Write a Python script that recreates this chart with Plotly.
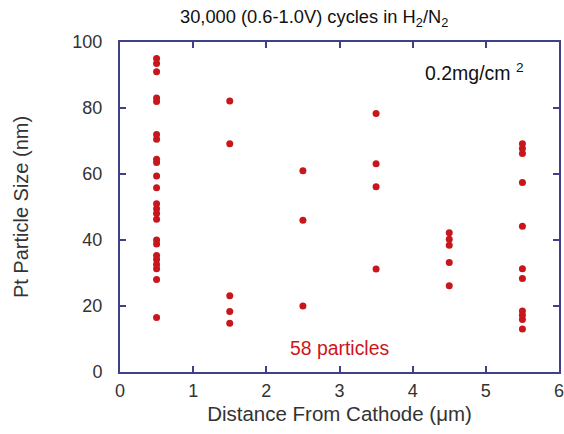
import plotly.graph_objects as go

x_positions = [0.5, 1.5, 2.5, 3.5, 4.5, 5.5]
sizes_05 = [95, 93.5, 91, 83, 82, 72, 70.5, 64.5, 63.5, 59.4, 55.8, 51, 49.5, 48, 46.3,
            40, 38.8, 35.3, 34.1, 32.6, 31.3, 28, 16.5]
sizes_15 = [82.1, 69.2, 23.1, 18.3, 14.8]
sizes_25 = [61, 46, 20]
sizes_35 = [78.3, 63.1, 56.1, 31.2]
sizes_45 = [42.2, 40.2, 38.4, 33.2, 26.1]
sizes_55 = [69.2, 67.7, 66.2, 57.4, 44.2, 31.3, 28.3, 18.5, 17.2, 15.9, 13.0]
columns = [sizes_05, sizes_15, sizes_25, sizes_35, sizes_45, sizes_55]

xs, ys = [], []
for xp, col in zip(x_positions, columns):
    xs += [xp] * len(col)
    ys += col

axis_color = "#3f3f8a"
font_family = "Liberation Sans, Arial, sans-serif"

fig = go.Figure(go.Scatter(
    x=xs, y=ys, mode="markers",
    marker=dict(color="#c8171c", size=7, line=dict(width=0)),
))

fig.update_layout(
    width=564, height=434,
    margin=dict(l=119.5, r=5, t=42, b=62),
    paper_bgcolor="white", plot_bgcolor="white",
    showlegend=False,
    font=dict(family=font_family, size=17, color="#333333"),
)
fig.update_xaxes(
    range=[0, 6], dtick=1, tick0=0, showgrid=False, zeroline=False,
    showline=True, linecolor=axis_color, linewidth=2, mirror="ticks",
    ticks="inside", ticklen=6, tickwidth=1.5, tickcolor=axis_color,
    tickfont=dict(size=18, color="#333333"), automargin=False, ticklabelstandoff=1,
    ticklabeloverflow="allow",
    title=dict(text="Distance From Cathode (μm)", font=dict(size=20.5, color="#333333"), standoff=7),
)
fig.update_yaxes(
    range=[0, 100], dtick=20, tick0=0, showgrid=False, zeroline=False,
    showline=True, linecolor=axis_color, linewidth=2, mirror="ticks",
    ticks="inside", ticklen=6, tickwidth=1.5, tickcolor=axis_color,
    tickfont=dict(size=18, color="#333333"), automargin=False, ticklabelstandoff=12,
    title=dict(text="Pt Particle Size (nm)", font=dict(size=20, color="#333333"), standoff=38),
)

fig.add_annotation(
    text="30,000 (0.6-1.0V) cycles in H<sub>2</sub>/N<sub>2</sub>",
    xref="paper", yref="paper", x=0.4425, y=1.072, showarrow=False,
    xanchor="center", yanchor="middle",
    font=dict(size=18.3, color="#111111", family=font_family),
)
fig.add_annotation(
    text="0.2mg/cm <sup>2</sup>",
    xref="x", yref="y", x=4.85, y=90.8, showarrow=False,
    xanchor="center", yanchor="middle",
    font=dict(size=19.5, color="#111111", family=font_family),
)
fig.add_annotation(
    text="58 particles",
    xref="x", yref="y", x=3.0, y=7.2, showarrow=False,
    xanchor="center", yanchor="middle",
    font=dict(size=19.4, color="#d0141c", family=font_family),
)

fig.write_html(
    "out.html",
    config={"displayModeBar": False},
    post_script="document.body.style.margin='0';document.body.style.overflow='hidden';",
)
